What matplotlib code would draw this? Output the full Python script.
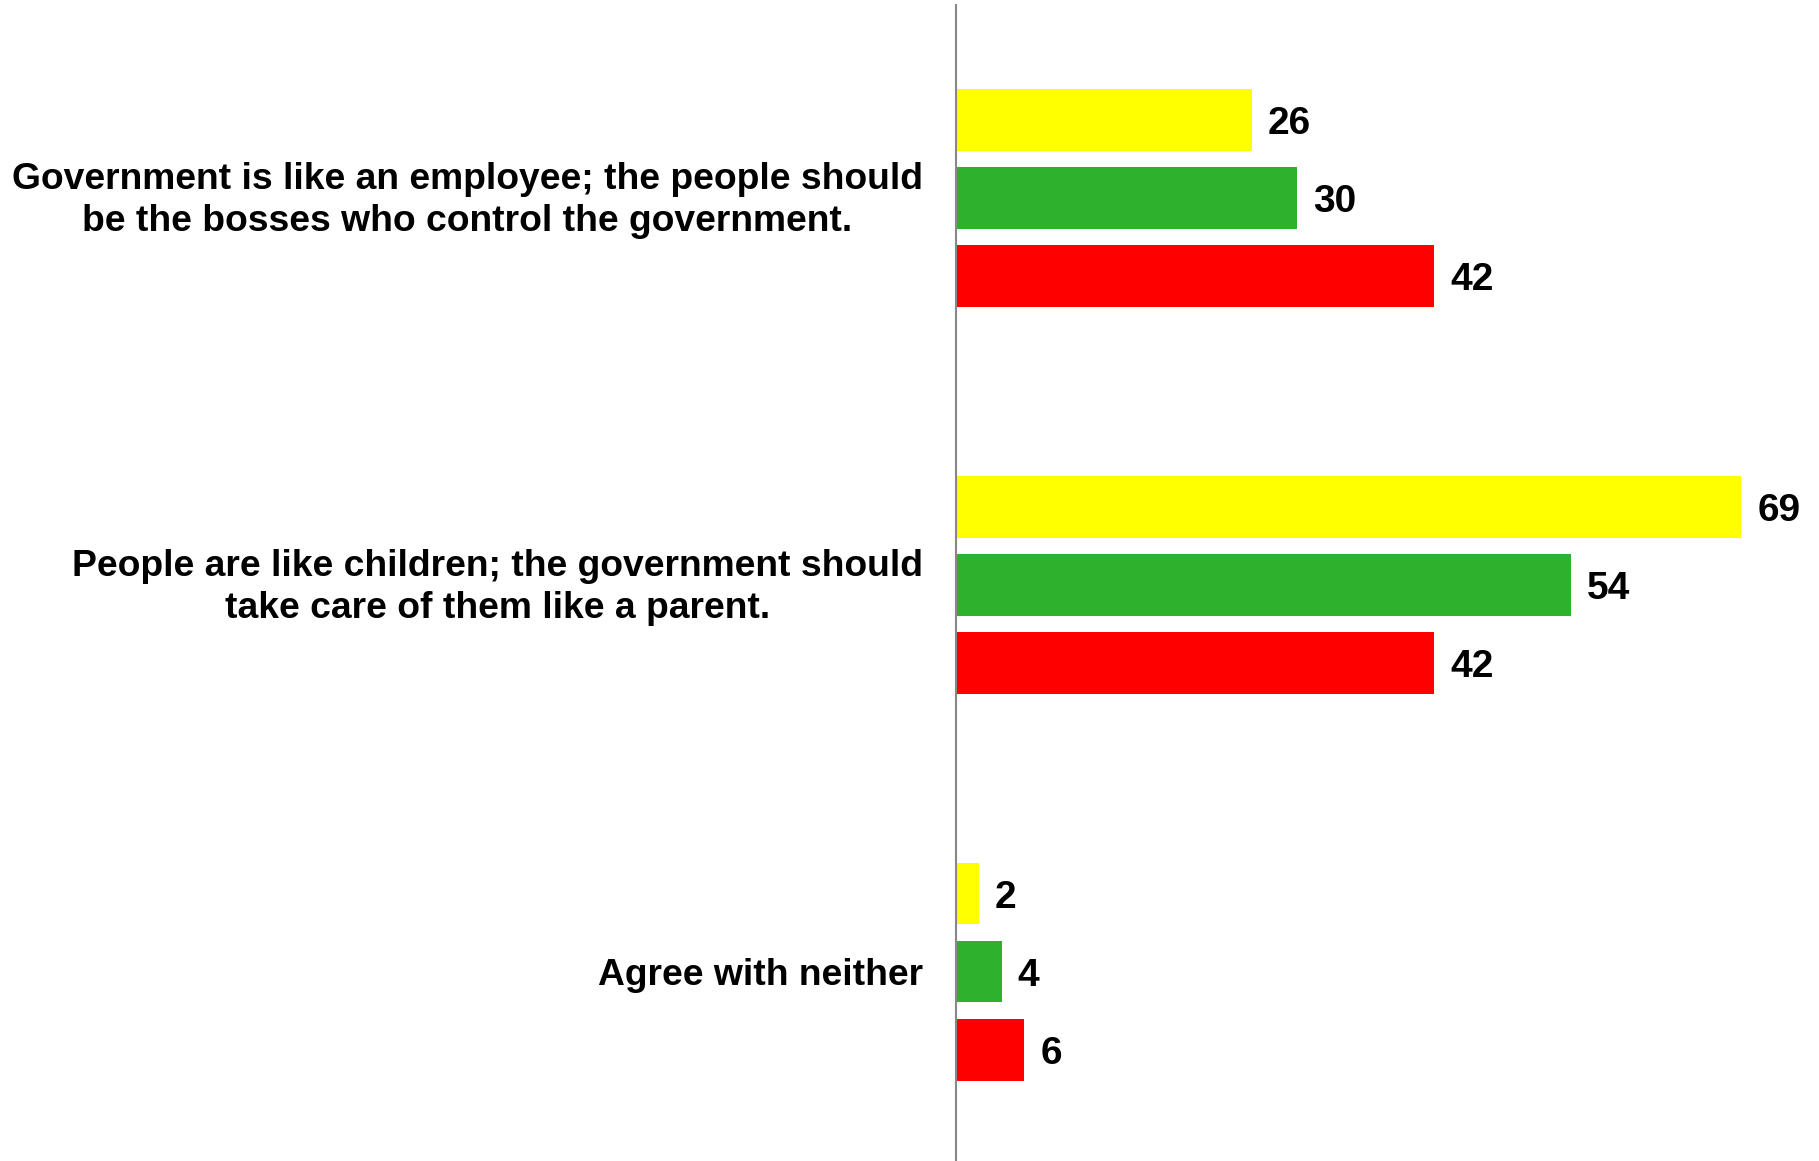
import matplotlib
matplotlib.use("Agg")
import matplotlib.pyplot as plt
import matplotlib.transforms as mtransforms
import numpy as np

categories = [
    "Government is like an employee; the people should\nbe the bosses who control the government.",
    "People are like children; the government should\ntake care of them like a parent.",
    "Agree with neither",
]
series_yellow = [26, 69, 2]
series_green = [30, 54, 4]
series_red = [42, 42, 6]
colors = ["#FFFF00", "#2EB22E", "#FF0000"]

W, H = 1819, 1161
fig = plt.figure(figsize=(W / 100, H / 100), dpi=100)
ax_left = 956 / W
ax_bottom = 0.0
ax_top = 1 - 5 / H
ax = fig.add_axes([ax_left, ax_bottom, 1 - ax_left, ax_top - ax_bottom])

font = "Liberation Sans"
y = np.arange(len(categories))
pitch = 0.2018
height = 0.16
all_series = [series_yellow, series_green, series_red]
for i, (vals, col) in enumerate(zip(all_series, colors)):
    pos = y + (i - 1) * pitch
    bars = ax.barh(pos, vals, height=height, color=col, edgecolor="none")
    for b, v in zip(bars, vals):
        ax.annotate(str(v), (b.get_width(), b.get_y() + b.get_height() / 2),
                    xytext=(11.5, -3.0), textcoords="offset points",
                    ha="left", va="center", fontsize=28, fontweight="bold",
                    family=font, color="black")

ax.set_xlim(0, (W - 956) / 11.38)
ax.set_ylim(2.49, -0.5)
for s in ["top", "right", "bottom"]:
    ax.spines[s].set_visible(False)
ax.spines["left"].set_color("#888888")
ax.spines["left"].set_linewidth(1.5)
ax.set_xticks([])
ax.set_yticks(y)
ax.set_yticklabels(categories, fontsize=26.8, fontweight="bold", family=font,
                   multialignment="center", linespacing=1.25)
ax.tick_params(axis="y", length=0, pad=24)
shift = mtransforms.ScaledTranslation(0, 5 / 100, fig.dpi_scale_trans)
for lbl in ax.get_yticklabels():
    if "\n" in lbl.get_text():
        lbl.set_transform(lbl.get_transform() + shift)

fig.savefig("out.png", dpi=100)
